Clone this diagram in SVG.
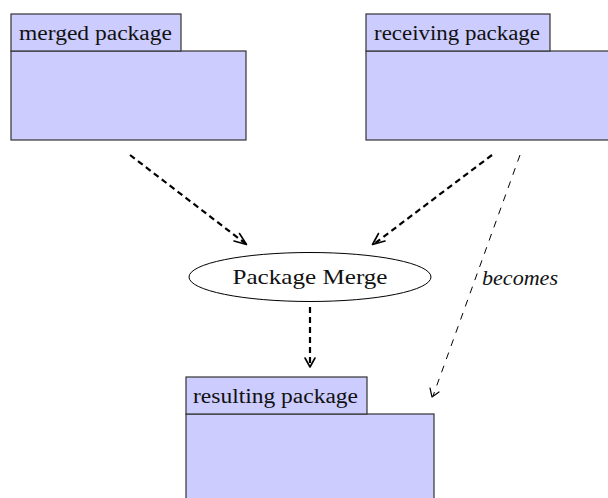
<svg xmlns="http://www.w3.org/2000/svg" width="608" height="498" viewBox="0 0 608 498">
<defs>
<style>
.pk{fill:#ccccff;stroke:#333;stroke-width:1.2}
.t{font-family:"Liberation Serif","DejaVu Serif",serif;font-size:20px;fill:#111}
.thick{stroke:#000;stroke-width:2.2;stroke-dasharray:6 4;fill:none}
.thin{stroke:#000;stroke-width:1;stroke-dasharray:7 7;fill:none}
.head{stroke:#000;stroke-width:1.6;fill:none;stroke-linecap:round;stroke-linejoin:round}
</style>
</defs>
<rect width="608" height="498" fill="#fff"/>
<g id="merged">
<rect class="pk" x="11" y="51" width="235" height="89"/>
<rect class="pk" x="11" y="14" width="170" height="37"/>
<text class="t" x="19" y="40" textLength="153" lengthAdjust="spacingAndGlyphs">merged package</text>
</g>
<g id="receiving">
<rect class="pk" x="366" y="51" width="244" height="89"/>
<rect class="pk" x="366" y="14" width="184" height="37"/>
<text class="t" x="374" y="40" textLength="166" lengthAdjust="spacingAndGlyphs">receiving package</text>
</g>
<g id="resulting">
<rect class="pk" x="186" y="414" width="248" height="90"/>
<rect class="pk" x="186" y="377" width="181" height="37"/>
<text class="t" x="193" y="403" textLength="165" lengthAdjust="spacingAndGlyphs">resulting package</text>
</g>
<g id="merge">
<ellipse cx="310" cy="277" rx="121" ry="24.5" fill="#fff" stroke="#000" stroke-width="1"/>
<text class="t" x="310" y="284" text-anchor="middle" style="font-size:22px" textLength="155" lengthAdjust="spacingAndGlyphs">Package Merge</text>
</g>
<g id="connectors">
<line class="thick" x1="130" y1="155" x2="246" y2="244"/>
<path class="head" d="M239.5 233.5 L246.5 244.5 L234 241"/>
<line class="thick" x1="492" y1="155" x2="374" y2="244"/>
<path class="head" d="M378.5 233.5 L372.5 244.5 L385 241"/>
<line class="thick" x1="310" y1="307" x2="310" y2="366"/>
<path class="head" d="M305 358 L310 367 L315 358"/>
<line class="thin" x1="520" y1="155" x2="433" y2="396"/>
<path class="head" d="M430 388 L432 397 L439 392" style="stroke-width:1.2"/>
<text class="t" x="482" y="285" style="font-style:italic" textLength="76" lengthAdjust="spacingAndGlyphs">becomes</text>
</g>
</svg>
